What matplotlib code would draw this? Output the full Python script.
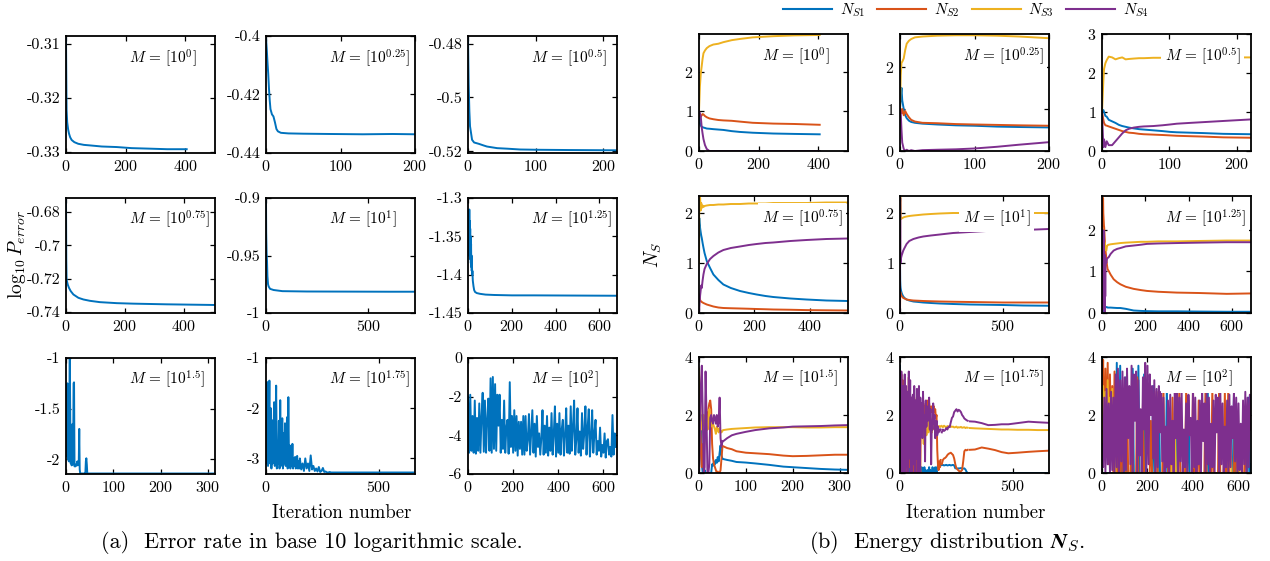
import numpy as np
import matplotlib
matplotlib.use('Agg')
import matplotlib.pyplot as plt
from matplotlib.lines import Line2D

plt.rcParams['font.family'] = 'serif'
plt.rcParams['font.serif'] = ['cmr10']
plt.rcParams['mathtext.fontset'] = 'cm'
plt.rcParams['axes.unicode_minus'] = False
plt.rcParams['axes.formatter.use_mathtext'] = True

blue, orange, yellow, purple = '#0072BD', '#D95319', '#EDB120', '#7E2F8E'

m_exps = ['0', '0.25', '0.5', '0.75', '1', '1.25', '1.5', '1.75', '2']
labels_m = [r'$M\,=\,[10^{%s}]$' % e for e in m_exps]

# ---------------- (a) error rate, log10 ----------------
it_e1 = [0, 1, 2, 4, 7, 10, 14, 19, 28, 41, 60, 81, 120, 170, 220, 282, 340, 405]
err1 = [-0.3086, -0.316, -0.3223, -0.3245, -0.3258, -0.3266, -0.3273, -0.3278, -0.3282,
        -0.3285, -0.3287, -0.3288, -0.3290, -0.3291, -0.3293, -0.3294, -0.3295, -0.3295]

it_e2 = [0, 1, 2, 3, 4, 5, 6, 8, 10, 12, 14, 16, 20, 30, 50, 86, 130, 170, 200]
err2 = [-0.4006, -0.4045, -0.409, -0.413, -0.418, -0.422, -0.425, -0.4268, -0.4275, -0.4295,
        -0.4318, -0.4326, -0.4331, -0.4333, -0.4334, -0.4335, -0.4336, -0.4335, -0.4336]

it_e3 = [0, 1, 2, 3, 6, 9, 16, 23, 28, 43, 58, 77, 102, 150, 220]
err3 = [-0.4772, -0.495, -0.505, -0.5107, -0.5157, -0.5167, -0.5172, -0.5178, -0.5182,
        -0.5188, -0.519, -0.5193, -0.5194, -0.5195, -0.5196]

it_e4 = [0, 1, 2, 6, 10, 16, 25, 42, 59, 81, 115, 172, 228, 341, 505]
err4 = [-0.6717, -0.7087, -0.7206, -0.7236, -0.7255, -0.7275, -0.7295, -0.7315, -0.7325,
        -0.7333, -0.7341, -0.7347, -0.7350, -0.7354, -0.7358]

it_e5 = [0, 1, 3, 5, 7, 10, 13, 20, 37, 80, 200, 400, 600, 728]
err5 = [-0.90, -0.93, -0.948, -0.955, -0.968, -0.975, -0.977, -0.979, -0.980, -0.981,
        -0.9813, -0.9814, -0.9815, -0.9815]

it_e6 = [0, 1, 2, 3, 4, 5, 6, 7, 8, 9, 10, 11, 12, 13, 14, 15, 16, 17, 18, 19, 20,
         22, 25, 28, 32, 40, 55, 80, 120, 200, 300, 450, 680]
err6 = [-1.375, -1.36, -1.33, -1.37, -1.32, -1.365, -1.315, -1.36, -1.33, -1.375, -1.34,
        -1.38, -1.35, -1.385, -1.36, -1.39, -1.375, -1.395, -1.385, -1.40, -1.395,
        -1.408, -1.415, -1.42, -1.4225, -1.424, -1.425, -1.426, -1.4265, -1.427, -1.427,
        -1.4272, -1.4275]

it_e7 = list(range(0, 46)) + [50, 100, 200, 315]
err7 = [-1.38, -1.97, -1.55, -1.25, -2.0, -1.6, -2.02, -1.5, -1.0, -1.6,
        -2.04, -1.8, -2.06, -1.9, -1.65, -2.05, -1.25, -1.24, -2.07, -2.06,
        -2.07, -2.05, -2.06, -2.05, -2.02, -2.06, -2.05, -2.03, -1.70, -2.10,
        -2.14, -2.14, -2.14, -2.14, -2.14, -2.14, -2.14, -2.14, -2.14, -2.14,
        -2.14, -2.13, -2.02, -1.99, -2.05, -2.14, -2.14, -2.14, -2.14, -2.14]

it_e8 = list(range(0, 150, 3)) + list(range(150, 300, 6)) + [305, 320, 660]
err8 = [-2.2, -3.1, -1.48, -3.15, -2.5, -1.45, -3.1, -2.0, -3.2, -2.24,
        -3.1, -2.6, -1.88, -3.15, -2.4, -1.55, -3.2, -2.7, -3.1, -2.25,
        -3.2, -1.84, -3.15, -2.8, -2.2, -3.2, -2.5, -3.1, -2.3, -3.15,
        -2.9, -2.18, -3.2, -1.78, -3.1, -2.74, -3.2, -2.9, -3.15, -2.71,
        -3.2, -3.0, -3.15, -2.97, -3.2, -3.1, -2.95, -3.2, -3.05, -3.2,
        -3.0, -3.22, -3.1, -3.25, -3.0, -3.2, -3.1, -3.25, -2.94, -3.22,
        -3.15, -3.25, -3.2, -3.26, -3.17, -3.27, -3.25, -3.19, -3.27, -3.26,
        -3.28, -3.28, -3.27, -3.28, -3.28, -3.28, -3.28, -3.28]

it_e9 = list(range(0, 656, 5))
err9 = [-2.0, -4.9, -1.9, -4.8, -3.0, -4.9, -2.2, -4.95, -3.1, -4.8,
        -2.35, -4.9, -3.0, -1.8, -4.85, -2.2, -4.9, -3.2, -2.1, -4.8,
        -1.05, -4.9, -0.98, -4.7, -1.35, -4.8, -1.9, -3.5, -1.9, -4.9,
        -3.2, -4.7, -2.2, -4.9, -3.6, -3.2, -4.95, -1.25, -4.6, -3.0,
        -4.9, -2.7, -4.8, -3.0, -5.05, -3.3, -4.7, -3.3, -5.0, -3.0,
        -5.0, -3.0, -4.8, -4.2, -2.9, -5.0, -3.8, -2.7, -4.9, -3.4,
        -5.1, -3.0, -4.6, -3.9, -5.0, -4.1, -2.7, -5.0, -3.5, -4.9,
        -3.0, -5.05, -3.6, -4.8, -2.85, -5.0, -3.9, -2.5, -5.1, -3.4,
        -4.9, -2.85, -5.0, -3.7, -3.2, -5.05, -4.0, -2.6, -4.9, -3.5,
        -4.95, -2.5, -4.8, -3.6, -2.2, -5.0, -4.2, -2.6, -4.9, -3.8,
        -5.05, -2.85, -4.7, -3.9, -2.5, -5.0, -3.6, -2.65, -5.1, -4.1,
        -2.7, -4.9, -3.9, -3.2, -5.0, -4.3, -4.8, -3.6, -5.1, -4.5,
        -4.9, -3.9, -5.15, -4.3, -4.2, -5.0, -4.6, -5.1, -2.95, -5.0,
        -3.9, -4.6]

err_its = [it_e1, it_e2, it_e3, it_e4, it_e5, it_e6, it_e7, it_e8, it_e9]
err_vals = [err1, err2, err3, err4, err5, err6, err7, err8, err9]
err_xlim = [500, 200, 220, 505, 728, 680, 315, 660, 660]
err_ylim = [(-0.3302, -0.3086), (-0.44, -0.40), (-0.5206, -0.4772),
            (-0.7406, -0.6717), (-1.0, -0.9), (-1.45, -1.30),
            (-2.145, -1.0), (-3.31, -1.0), (-6.0, 0.0)]
err_xticks = [[0, 200, 400], [0, 100, 200], [0, 100, 200],
              [0, 200, 400], [0, 500], [0, 200, 400, 600],
              [0, 100, 200, 300], [0, 500], [0, 200, 400, 600]]
err_yticks = [['-0.33', '-0.32', '-0.31'], ['-0.44', '-0.42', '-0.4'],
              ['-0.52', '-0.5', '-0.48'], ['-0.74', '-0.72', '-0.7', '-0.68'],
              ['-1', '-0.95', '-0.9'], ['-1.45', '-1.4', '-1.35', '-1.3'],
              ['-2', '-1.5', '-1'], ['-3', '-2', '-1'], ['-6', '-4', '-2', '0']]

# ---------------- (b) energy distribution N_S ----------------
# panel 1
it_n1 = [0, 3, 6, 9, 12, 15, 20, 26, 35, 48, 65, 82, 110, 137, 180, 249, 320, 405]
n1_s1 = [1.0, 0.70, 0.64, 0.61, 0.60, 0.59, 0.58, 0.565, 0.56, 0.55, 0.54, 0.53, 0.50, 0.48, 0.46, 0.44, 0.43, 0.42]
n1_s2 = [1.0, 0.88, 0.86, 0.90, 0.93, 0.92, 0.88, 0.85, 0.82, 0.80, 0.78, 0.77, 0.76, 0.74, 0.71, 0.69, 0.68, 0.66]
n1_s3 = [1.0, 1.62, 1.95, 2.13, 2.32, 2.46, 2.53, 2.59, 2.64, 2.68, 2.70, 2.74, 2.79, 2.82, 2.86, 2.89, 2.91, 2.92]
n1_s4 = [1.0, 0.95, 0.86, 0.60, 0.44, 0.30, 0.15, 0.05, 0.0, 0.0, 0.0, 0.0, 0.0, 0.0, 0.0, 0.0, 0.0, 0.0]

# panel 2
it_n2 = [0, 1, 2, 3, 5, 7, 9, 12, 15, 20, 30, 50, 75, 100, 130, 160, 200]
n2_s1 = [1.0, 1.3, 1.5, 1.2, 1.0, 0.85, 0.78, 0.72, 0.69, 0.67, 0.65, 0.63, 0.61, 0.60, 0.58, 0.57, 0.56]
n2_s2 = [1.0, 0.95, 0.9, 1.0, 0.85, 0.95, 0.88, 0.8, 0.74, 0.70, 0.67, 0.66, 0.64, 0.63, 0.62, 0.61, 0.60]
n2_s3 = [1.0, 1.8, 2.1, 2.12, 2.2, 2.4, 2.55, 2.62, 2.66, 2.70, 2.72, 2.74, 2.75, 2.75, 2.74, 2.72, 2.68]
n2_s4 = [1.0, 0.9, 0.5, 0.2, 0.05, 0.0, 0.03, 0.0, 0.02, 0.0, 0.02, 0.03, 0.04, 0.06, 0.1, 0.15, 0.21]

# panel 3
it_n3 = [0, 2, 3, 5, 7, 10, 15, 20, 25, 30, 35, 40, 47, 55, 62, 76, 90, 101, 111, 130, 150, 180, 221]
n3_s1 = [1.0, 1.05, 1.0, 0.9, 0.88, 0.8, 0.76, 0.72, 0.67, 0.64, 0.62, 0.6, 0.58, 0.56, 0.55, 0.53, 0.51, 0.49, 0.48, 0.47, 0.46, 0.44, 0.43]
n3_s2 = [1.0, 0.8, 0.72, 0.66, 0.65, 0.63, 0.6, 0.57, 0.54, 0.51, 0.49, 0.47, 0.46, 0.44, 0.43, 0.42, 0.41, 0.40, 0.39, 0.38, 0.37, 0.35, 0.34]
n3_s3 = [1.0, 1.8, 2.1, 2.25, 2.33, 2.42, 2.4, 2.35, 2.38, 2.4, 2.35, 2.36, 2.37, 2.38, 2.38, 2.39, 2.39, 2.4, 2.4, 2.4, 2.4, 2.4, 2.4]
n3_s4 = [1.0, 0.1, 0.3, 0.1, 0.25, 0.15, 0.15, 0.25, 0.35, 0.45, 0.53, 0.57, 0.6, 0.62, 0.63, 0.64, 0.66, 0.68, 0.7, 0.72, 0.74, 0.77, 0.81]

# panel 4
it_n4 = [0, 1, 2, 4, 6, 8, 10, 13, 16, 20, 28, 40, 52, 70, 88, 115, 148, 180, 208, 240, 268, 330, 388, 460, 538]
n4_s1 = [1.0, 1.9, 1.8, 1.7, 1.62, 1.55, 1.5, 1.4, 1.31, 1.2, 1.04, 0.9, 0.77, 0.66, 0.57, 0.5, 0.44, 0.4, 0.37, 0.34, 0.32, 0.29, 0.27, 0.25, 0.24]
n4_s2 = [0.0, 0.37, 0.3, 0.26, 0.24, 0.23, 0.22, 0.21, 0.2, 0.19, 0.17, 0.15, 0.13, 0.11, 0.1, 0.095, 0.09, 0.085, 0.08, 0.075, 0.07, 0.065, 0.058, 0.054, 0.05]
n4_s3 = [1.0, 2.34, 2.1, 2.3, 2.05, 2.2, 2.1, 2.15, 2.12, 2.14, 2.15, 2.16, 2.16, 2.17, 2.17, 2.18, 2.18, 2.19, 2.19, 2.19, 2.2, 2.2, 2.2, 2.21, 2.21]
n4_s4 = [0.0, 0.1, 0.2, 0.35, 0.45, 0.55, 0.5, 0.65, 0.77, 0.88, 0.98, 1.08, 1.14, 1.21, 1.26, 1.3, 1.33, 1.36, 1.38, 1.4, 1.41, 1.44, 1.46, 1.48, 1.49]

# panel 5
it_n5 = [0, 1, 2, 3, 5, 8, 12, 16, 22, 32, 45, 65, 90, 113, 150, 194, 258, 340, 420, 500, 600, 725]
n5_s1 = [1.0, 0.65, 0.55, 0.5, 0.45, 0.4, 0.36, 0.33, 0.3, 0.27, 0.25, 0.23, 0.22, 0.21, 0.2, 0.19, 0.18, 0.17, 0.165, 0.16, 0.15, 0.145]
n5_s2 = [0.0, 0.4, 0.42, 0.38, 0.36, 0.34, 0.32, 0.3, 0.29, 0.27, 0.26, 0.25, 0.245, 0.24, 0.235, 0.23, 0.225, 0.22, 0.215, 0.21, 0.21, 0.21]
n5_s3 = [1.0, 2.34, 2.3, 1.95, 1.88, 1.89, 1.9, 1.91, 1.92, 1.93, 1.94, 1.95, 1.96, 1.97, 1.98, 1.99, 2.0, 2.0, 2.0, 2.0, 2.0, 2.0]
n5_s4 = [0.0, 2.3, 1.0, 1.05, 1.1, 1.15, 1.2, 1.25, 1.3, 1.38, 1.44, 1.48, 1.51, 1.53, 1.55, 1.57, 1.6, 1.62, 1.64, 1.65, 1.66, 1.68]

# panel 6
it_n6 = [0, 1, 2, 3, 4, 5, 6, 7, 8, 9, 10, 11, 12, 13, 14, 15, 16, 18, 20, 23, 26, 31, 40, 54, 70, 85, 110, 146, 180, 208, 260, 346, 450, 577, 689]
n6_s1 = [1.0, 0.0, 0.1, 0.0, 0.2, 0.05, 0.3, 0.35, 0.2, 0.15, 0.2, 0.15, 0.18, 0.14, 0.15, 0.14, 0.15, 0.14, 0.14, 0.14, 0.13, 0.13, 0.13, 0.125, 0.12, 0.12, 0.1, 0.06, 0.05, 0.045, 0.04, 0.04, 0.035, 0.03, 0.03]
n6_s2 = [1.0, 2.8, 2.75, 2.6, 2.5, 2.75, 2.4, 2.3, 2.2, 2.1, 2.06, 1.95, 1.85, 1.75, 1.65, 1.55, 1.5, 1.42, 1.3, 1.15, 1.05, 1.01, 0.92, 0.81, 0.74, 0.69, 0.63, 0.58, 0.55, 0.53, 0.51, 0.49, 0.48, 0.46, 0.47]
n6_s3 = [1.0, 2.0, 1.2, 1.9, 1.4, 2.0, 1.5, 1.8, 1.6, 1.9, 1.55, 1.7, 1.6, 1.65, 1.58, 1.62, 1.55, 1.52, 1.5, 1.6, 1.63, 1.64, 1.65, 1.66, 1.67, 1.68, 1.69, 1.70, 1.71, 1.71, 1.72, 1.72, 1.73, 1.74, 1.74]
n6_s4 = [1.0, 0.0, 2.0, 0.2, 1.8, 0.1, 1.5, 0.3, 1.98, 0.5, 1.2, 0.2, 1.4, 0.0, 1.3, 0.4, 1.1, 1.25, 1.2, 1.3, 1.32, 1.34, 1.42, 1.5, 1.54, 1.56, 1.6, 1.62, 1.64, 1.66, 1.67, 1.68, 1.69, 1.70, 1.70]

# panel 7 (noisy start every 2 iterations, then settled)
it_n7a = list(range(0, 51, 2))
n7a_s1 = [0.0, 1.2, 2.0, 0.3, 0.0, 0.0, 0.1, 0.0, 0.0, 0.0, 0.0, 0.0, 0.0, 0.0, 0.3, 0.25, 0.4, 0.3, 0.45, 0.35, 0.55, 0.4, 0.7, 0.95, 0.6, 0.5]
n7a_s2 = [0.0, 2.0, 1.0, 0.2, 1.0, 0.5, 1.2, 1.8, 2.1, 1.5, 2.2, 2.4, 2.5, 2.2, 1.0, 0.5, 0.3, 0.2, 0.1, 0.0, 0.05, 0.0, 0.0, 0.1, 0.5, 0.9]
n7a_s3 = [3.6, 2.8, 1.8, 1.5, 1.7, 2.0, 1.6, 1.8, 1.7, 1.5, 1.9, 2.2, 1.7, 1.6, 1.75, 1.7, 1.6, 1.5, 1.35, 1.6, 1.5, 1.4, 1.55, 1.45, 1.4, 1.45]
n7a_s4 = [0.0, 1.5, 3.0, 3.7, 2.0, 0.0, 0.2, 3.5, 2.0, 0.0, 0.0, 0.3, 1.9, 2.0, 1.8, 1.7, 2.0, 1.9, 1.7, 2.0, 1.6, 1.8, 2.6, 1.2, 0.9, 1.1]
it_n7b = [52, 60, 70, 80, 100, 120, 150, 180, 200, 230, 260, 290, 315]
n7b_s1 = [0.48, 0.45, 0.42, 0.38, 0.36, 0.33, 0.28, 0.22, 0.2, 0.17, 0.14, 0.12, 0.11]
n7b_s2 = [0.92, 0.86, 0.82, 0.75, 0.70, 0.68, 0.65, 0.60, 0.58, 0.59, 0.61, 0.63, 0.63]
n7b_s3 = [1.48, 1.5, 1.52, 1.53, 1.55, 1.57, 1.58, 1.58, 1.58, 1.57, 1.57, 1.58, 1.58]
n7b_s4 = [1.1, 1.2, 1.3, 1.35, 1.42, 1.48, 1.54, 1.57, 1.6, 1.61, 1.62, 1.64, 1.65]

# panel 8 (every 3 iterations up to 180, every 5 up to 300, then settled)
it_n8a = list(range(0, 181, 3))
n8a_s1 = [3.7, 0.5, 0.0, 2.5, 0.0, 0.3, 0.0, 1.8, 0.0, 0.0,
          0.5, 0.0, 0.0, 0.0, 0.2, 0.0, 0.0, 0.3, 0.0, 0.0,
          0.0, 0.2, 0.3, 0.0, 0.1, 0.3, 0.2, 0.0, 0.3, 0.2,
          0.0, 0.1, 0.2, 0.0, 0.1, 0.0, 0.2, 0.0, 0.1, 0.0,
          0.0, 0.1, 0.0, 0.2, 0.0, 0.1, 0.0, 0.0, 0.2, 0.1,
          0.0, 0.1, 0.2, 0.1, 0.0, 0.2, 0.25, 0.3, 0.25, 0.27,
          0.28]
n8a_s2 = [3.0, 2.6, 3.4, 0.5, 3.2, 2.0, 0.2, 2.8, 1.0, 0.0,
          0.5, 2.8, 0.0, 3.3, 0.2, 2.5, 1.0, 0.0, 0.3, 1.5,
          0.0, 0.8, 0.0, 1.2, 0.2, 0.0, 0.5, 0.0, 1.8, 0.3,
          0.0, 2.2, 2.4, 2.1, 2.5, 2.2, 2.3, 2.0, 2.4, 2.2,
          2.5, 2.1, 2.3, 2.4, 2.0, 2.2, 2.3, 2.1, 2.2, 2.0,
          2.3, 2.1, 2.2, 1.9, 2.0, 0.8, 0.3, 0.1, 0.4, 0.2,
          0.45]
n8a_s3 = [3.5, 3.0, 2.8, 2.0, 1.0, 2.5, 1.5, 3.0, 2.0, 1.0,
          2.2, 1.5, 0.5, 1.8, 1.0, 0.5, 1.6, 2.0, 1.5, 1.0,
          1.8, 2.6, 1.2, 1.7, 0.8, 1.5, 2.2, 1.0, 1.8, 1.4,
          1.7, 1.2, 1.9, 1.5, 1.6, 1.0, 1.8, 1.5, 1.7, 1.3,
          1.6, 1.8, 1.4, 1.7, 1.5, 1.9, 1.6, 1.4, 1.7, 1.6,
          1.5, 1.7, 1.6, 1.65, 1.55, 1.6, 1.62, 1.58, 1.6, 1.62,
          1.6]
n8a_s4 = [3.3, 0.0, 3.5, 0.5, 3.0, 0.0, 2.5, 3.4, 0.0, 3.0,
          0.2, 2.8, 0.0, 3.5, 0.5, 3.2, 0.0, 2.6, 0.0, 2.7,
          0.3, 3.0, 0.0, 2.5, 0.5, 2.9, 0.0, 2.2, 3.0, 0.0,
          2.6, 1.5, 2.4, 1.2, 2.8, 1.6, 2.0, 0.4, 2.5, 1.6,
          2.3, 1.8, 1.9, 2.6, 1.5, 2.2, 0.3, 1.8, 1.5, 2.4,
          1.7, 2.0, 1.2, 1.5, 1.8, 1.3, 1.6, 1.4, 1.5, 1.45,
          1.5]
it_n8b = list(range(185, 301, 5))
n8b_s1 = [0.27, 0.28, 0.26, 0.27, 0.28, 0.26, 0.27, 0.28, 0.26, 0.27, 0.28, 0.26,
          0.16, 0.17, 0.15, 0.16, 0.16, 0.17, 0.16, 0.15, 0.16, 0.12, 0.04, 0.0]
n8b_s2 = [0.3, 0.45, 0.5, 0.52, 0.56, 0.62, 0.66, 0.68, 0.7, 0.66, 0.62, 0.5,
          0.3, 0.16, 0.12, 0.08, 0.05, 0.06, 0.1, 0.4, 0.75, 0.8, 0.78, 0.8]
n8b_s3 = [1.62, 1.58, 1.63, 1.6, 1.57, 1.62, 1.6, 1.58, 1.61, 1.59, 1.6, 1.57,
          1.58, 1.6, 1.56, 1.58, 1.57, 1.59, 1.56, 1.57, 1.58, 1.55, 1.57, 1.56]
n8b_s4 = [1.4, 1.5, 1.45, 1.48, 1.55, 1.5, 1.6, 1.58, 1.75, 1.9, 1.95, 2.1,
          2.15, 2.2, 2.12, 2.18, 2.15, 2.1, 2.0, 1.95, 1.88, 1.85, 1.82, 1.8]
it_n8c = [310, 332, 362, 391, 421, 450, 480, 520, 569, 610, 660]
n8c_s1 = [0.0] * 11
n8c_s2 = [0.8, 0.81, 0.88, 0.84, 0.79, 0.72, 0.68, 0.7, 0.73, 0.75, 0.77]
n8c_s3 = [1.55, 1.54, 1.53, 1.52, 1.51, 1.5, 1.5, 1.49, 1.49, 1.48, 1.48]
n8c_s4 = [1.78, 1.77, 1.72, 1.65, 1.66, 1.68, 1.68, 1.72, 1.77, 1.75, 1.73]

# panel 9 (every 5 iterations)
it_n9 = list(range(0, 656, 5))
n9_s1 = [0.0, 0.0, 0.0, 0.0, 0.0, 0.0, 0.0, 0.0, 0.0, 0.0,
         0.0, 0.0, 0.0, 3.8, 0.0, 0.0, 3.7, 0.0, 0.0, 0.0,
         0.0, 3.3, 0.0, 0.0, 0.0, 0.0, 0.0, 3.6, 0.0, 0.0,
         0.0, 0.0, 3.7, 0.0, 0.0, 0.0, 0.0, 3.4, 0.0, 0.0,
         0.0, 0.0, 0.0, 0.0, 0.0, 3.0, 0.0, 0.0, 0.0, 0.0,
         2.8, 0.0, 0.0, 0.0, 0.0, 0.0, 0.0, 3.0, 0.0, 0.0,
         0.0, 0.0, 0.0, 0.0, 0.0, 2.9, 0.0, 0.0, 0.0, 0.0,
         0.0, 0.0, 0.0, 0.0, 0.0, 0.0, 2.5, 0.0, 0.0, 0.0,
         0.0, 0.0, 0.0, 0.0, 0.0, 0.0, 0.0, 0.0, 0.0, 0.0,
         0.0, 0.0, 0.0, 2.8, 0.0, 0.0, 0.0, 0.0, 0.0, 0.0,
         0.0, 0.0, 0.0, 0.0, 0.0, 0.0, 0.0, 0.0, 0.0, 0.0,
         0.0, 0.0, 0.0, 0.0, 0.0, 0.0, 2.7, 0.0, 0.0, 0.0,
         0.0, 0.0, 0.0, 0.0, 0.0, 0.0, 0.0, 0.0, 0.0, 2.6,
         0.0, 0.3]
n9_s2 = [2.0, 3.9, 0.5, 3.6, 1.0, 3.8, 0.3, 3.4, 0.8, 3.0,
         0.0, 3.5, 0.2, 0.0, 3.2, 0.0, 0.0, 2.0, 0.0, 0.0,
         0.0, 0.0, 3.0, 0.0, 0.0, 0.0, 2.6, 0.0, 0.0, 0.0,
         0.0, 3.3, 0.0, 0.0, 0.0, 0.0, 2.4, 0.0, 0.0, 0.0,
         0.0, 0.0, 0.0, 1.8, 0.0, 0.0, 0.0, 0.0, 2.8, 0.0,
         0.0, 0.0, 0.0, 0.0, 3.0, 0.0, 0.0, 0.0, 0.0, 1.2,
         0.0, 0.0, 2.6, 0.0, 0.0, 0.0, 0.0, 0.0, 3.0, 0.0,
         0.0, 0.0, 0.0, 0.0, 2.9, 0.0, 0.0, 0.0, 0.0, 0.0,
         3.0, 0.0, 0.0, 0.0, 0.0, 2.5, 0.0, 0.0, 0.0, 0.0,
         0.0, 3.0, 0.0, 0.0, 0.0, 0.0, 0.0, 2.9, 0.0, 0.0,
         0.0, 0.0, 0.0, 3.0, 0.0, 0.0, 0.0, 0.0, 2.8, 0.0,
         0.0, 3.0, 0.0, 0.0, 0.0, 0.0, 0.0, 2.2, 0.0, 0.0,
         0.0, 0.0, 0.0, 0.0, 0.0, 0.0, 1.5, 0.0, 0.0, 0.0,
         0.0, 0.0]
n9_s3 = [1.0, 3.0, 1.2, 2.8, 1.0, 3.2, 1.4, 2.6, 1.1, 2.9,
         1.3, 2.5, 0.0, 0.0, 0.0, 0.0, 0.0, 0.0, 0.0, 0.0,
         0.0, 0.0, 0.0, 0.0, 0.0, 0.0, 0.0, 0.0, 0.0, 0.0,
         0.0, 0.0, 0.0, 0.0, 0.0, 0.0, 0.0, 0.0, 0.0, 0.0,
         0.0, 0.0, 0.0, 0.0, 0.0, 0.0, 0.0, 0.0, 0.0, 0.0,
         0.0, 0.0, 0.0, 0.0, 0.0, 0.0, 0.0, 0.0, 0.0, 0.0,
         0.0, 0.0, 1.6, 1.2, 2.0, 0.0, 0.0, 0.0, 0.0, 0.0,
         0.0, 0.0, 0.0, 0.0, 0.0, 0.0, 0.0, 0.0, 0.0, 0.0,
         0.0, 0.0, 0.0, 0.0, 0.0, 0.0, 0.0, 0.0, 0.0, 0.0,
         0.0, 0.0, 0.0, 0.0, 0.0, 0.0, 0.0, 0.0, 0.0, 0.0,
         0.0, 0.0, 0.0, 0.0, 0.0, 0.0, 0.0, 0.0, 0.0, 0.0,
         0.0, 0.0, 1.5, 1.0, 0.0, 0.0, 0.0, 0.0, 0.0, 0.0,
         1.2, 0.0, 0.0, 0.0, 0.0, 0.0, 0.0, 0.0, 0.0, 0.0,
         0.0, 0.0]
n9_s4 = [1.0, 0.2, 2.6, 0.0, 2.9, 0.3, 2.4, 0.0, 2.8, 0.1,
         2.6, 0.0, 3.4, 0.2, 3.6, 0.0, 3.2, 0.4, 3.5, 0.0,
         3.3, 0.1, 3.6, 1.2, 3.0, 0.3, 3.7, 0.0, 3.4, 1.8,
         3.5, 0.0, 3.2, 0.6, 2.2, 0.0, 3.3, 1.5, 3.8, 0.0,
         3.7, 0.3, 3.4, 2.0, 3.0, 0.5, 3.2, 0.0, 2.9, 0.2,
         3.0, 1.4, 2.8, 0.4, 2.6, 0.0, 1.6, 0.2, 2.5, 0.0,
         2.7, 0.3, 1.8, 0.0, 2.9, 1.2, 3.0, 0.0, 2.6, 0.4,
         2.8, 0.0, 1.5, 0.2, 2.4, 0.0, 2.7, 1.3, 1.9, 0.0,
         2.9, 0.2, 2.6, 0.0, 1.8, 0.3, 2.5, 0.0, 3.0, 1.1,
         2.4, 0.0, 2.8, 0.3, 2.6, 0.0, 1.7, 0.2, 2.5, 0.0,
         2.7, 1.4, 2.6, 0.0, 2.9, 0.3, 2.4, 0.0, 1.6, 0.2,
         2.5, 0.0, 2.7, 0.2, 2.3, 1.2, 2.8, 0.4, 2.6, 0.0,
         2.4, 0.1, 1.7, 0.0, 2.5, 0.3, 2.8, 0.0, 2.6, 0.2,
         2.7, 1.5]

ns_panels = [
    [(it_n1, n1_s1, n1_s2, n1_s3, n1_s4)],
    [(it_n2, n2_s1, n2_s2, n2_s3, n2_s4)],
    [(it_n3, n3_s1, n3_s2, n3_s3, n3_s4)],
    [(it_n4, n4_s1, n4_s2, n4_s3, n4_s4)],
    [(it_n5, n5_s1, n5_s2, n5_s3, n5_s4)],
    [(it_n6, n6_s1, n6_s2, n6_s3, n6_s4)],
    [(it_n7a, n7a_s1, n7a_s2, n7a_s3, n7a_s4), (it_n7b, n7b_s1, n7b_s2, n7b_s3, n7b_s4)],
    [(it_n8a, n8a_s1, n8a_s2, n8a_s3, n8a_s4), (it_n8b, n8b_s1, n8b_s2, n8b_s3, n8b_s4),
     (it_n8c, n8c_s1, n8c_s2, n8c_s3, n8c_s4)],
    [(it_n9, n9_s1, n9_s2, n9_s3, n9_s4)],
]
ns_xlim = [500, 200, 221, 538, 725, 689, 318, 660, 655]
ns_ylim = [2.945, 2.78, 3.0, 2.34, 2.34, 2.81, 4, 4, 4]
ns_xticks = err_xticks
ns_yticks = [[0, 1, 2], [0, 1, 2], [0, 1, 2, 3], [0, 1, 2], [0, 1, 2], [0, 1, 2],
             [0, 2, 4], [0, 2, 4], [0, 2, 4]]

# ---------------- layout (pixels) ----------------
W, H = 1270, 561
fig = plt.figure(figsize=(W / 100, H / 100), dpi=100)

def make_ax(x0, top, w, h):
    ax = fig.add_axes([x0 / W, 1 - (top + h) / H, w / W, h / H])
    ax.tick_params(direction='in', top=True, right=True, length=3.5, width=0.9,
                   labelsize=11.5, pad=4)
    for s in ax.spines.values():
        s.set_linewidth(1.3)
    return ax

left_x = [66, 266, 468]
left_top = [36, 198, 358]
left_h = [117, 115, 116]
right_x = [699, 900, 1102]
right_top = [34, 196, 357]
right_h = [117, 117, 116]
aw = 149

for k in range(9):
    r, c = divmod(k, 3)
    ax = make_ax(left_x[c], left_top[r], aw, left_h[r])
    ax.plot(err_its[k], err_vals[k], color=blue, lw=1.4)
    ax.set_xlim(0, err_xlim[k])
    ax.set_ylim(*err_ylim[k])
    ax.set_xticks(err_xticks[k])
    ax.set_yticks([float(t) for t in err_yticks[k]], err_yticks[k])
    ax.text(0.42, 0.815, labels_m[k], transform=ax.transAxes, fontsize=11,
            ha='left', va='center')

    ax = make_ax(right_x[c], right_top[r], aw, right_h[r])
    for seg in ns_panels[k]:
        its = seg[0]
        for vals, col in zip(seg[1:], [blue, orange, yellow, purple]):
            ax.plot(its, vals, color=col, lw=1.4)
    ax.set_xlim(0, ns_xlim[k])
    ax.set_ylim(0, ns_ylim[k])
    ax.set_xticks(ns_xticks[k])
    ax.set_yticks(ns_yticks[k])
    ax.text(0.42, 0.815, labels_m[k], transform=ax.transAxes, fontsize=11,
            ha='left', va='center',
            bbox=dict(facecolor='white', edgecolor='none', pad=2.5))

# labels
fig.text(17 / W, 1 - 255 / H, r'$\log_{10} P_{error}$', rotation=90, fontsize=14,
         ha='center', va='center')
fig.text(653 / W, 1 - 255 / H, r'$N_S$', rotation=90, fontsize=14,
         ha='center', va='center')
fig.text(342 / W, 1 - 513 / H, 'Iteration number', fontsize=13.5, ha='center', va='center')
fig.text(976 / W, 1 - 513 / H, 'Iteration number', fontsize=13.5, ha='center', va='center')
fig.text(312 / W, 1 - 542 / H, '(a)  Error rate in base 10 logarithmic scale.',
         fontsize=16, ha='center', va='center')
cap_b = fig.text(947 / W, 1 - 542 / H, r'(b)  Energy distribution $\mathbfit{N}_S$.',
                 fontsize=16, ha='center', va='center')
try:
    fig.canvas.draw()
except Exception:
    cap_b.set_text(r'(b)  Energy distribution $\mathbf{N}_S$.')

handles = [Line2D([], [], color=col, lw=1.5) for col in [blue, orange, yellow, purple]]
fig.legend(handles, [r'$N_{S1}$', r'$N_{S2}$', r'$N_{S3}$', r'$N_{S4}$'],
           loc='center', bbox_to_anchor=(966 / W, 1 - 10 / H), ncol=4, frameon=False,
           fontsize=11, handlelength=3.2, handletextpad=0.5, columnspacing=0.8)

fig.savefig('out.png', dpi=100)
